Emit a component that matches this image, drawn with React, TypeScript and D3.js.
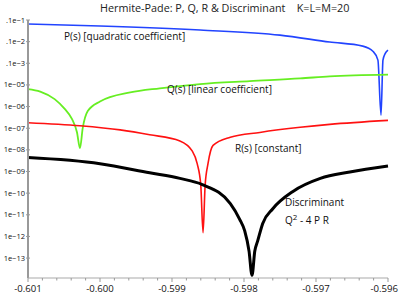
import React from 'react'
import * as d3 from 'd3'

// [s, value] pairs
const pSeries: [number, number][] = [
  [-0.601, 6.5e-3], [-0.6, 5.3e-3], [-0.59861, 3.45e-3], [-0.5975, 2.0e-3],
  [-0.59681, 9.6e-4], [-0.59635, 6.2e-4], [-0.59621, 3.6e-4], [-0.59614, 1.4e-4],
  [-0.596097, 4e-7], [-0.59607, 1.4e-4], [-0.59604, 2.8e-4], [-0.596, 4.1e-4],
]
const qSeries: [number, number][] = [
  [-0.601, 6.4e-6], [-0.60083, 4.9e-6], [-0.60063, 2.2e-6], [-0.60049, 7.8e-7],
  [-0.60039, 2.7e-7], [-0.60032, 6.5e-8], [-0.600278, 1.2e-8], [-0.60024, 1.0e-7],
  [-0.60017, 6.2e-7], [-0.6, 1.7e-6], [-0.59958, 4.5e-6], [-0.59917, 7.0e-6],
  [-0.59861, 1.1e-5], [-0.59792, 1.5e-5], [-0.59722, 2.0e-5], [-0.59681, 2.5e-5],
  [-0.596, 3.0e-5],
]
const rSeries: [number, number][] = [
  [-0.601, 1.8e-7], [-0.60028, 1.3e-7], [-0.59972, 8.4e-8], [-0.59931, 5.0e-8],
  [-0.59889, 2.6e-8], [-0.59872, 9.0e-9], [-0.59865, 2.3e-9], [-0.5986, 2.3e-10],
  [-0.598569, 1.5e-12], [-0.59854, 2.3e-10], [-0.5985, 2.3e-9], [-0.59843, 1.6e-8],
  [-0.59819, 3.8e-8], [-0.59778, 6.4e-8], [-0.59722, 1.1e-7], [-0.59681, 1.5e-7],
  [-0.596, 2.3e-7],
]
const dSeries: [number, number][] = [
  [-0.601, 4.4e-9], [-0.6, 2.3e-9], [-0.59931, 8.7e-10], [-0.59889, 4.8e-10],
  [-0.59858, 2.5e-10], [-0.59819, 3.3e-11], [-0.59806, 6.2e-12], [-0.59799, 1.8e-12],
  [-0.59793, 2.1e-13], [-0.597889, 1.6e-14], [-0.59785, 2.1e-13], [-0.59781, 6.2e-13],
  [-0.59774, 4.0e-12], [-0.5976, 1.9e-11], [-0.59732, 1.2e-10], [-0.59694, 4.8e-10],
  [-0.59653, 9.5e-10], [-0.596, 1.8e-9],
]

const xTicks = [-0.601, -0.6, -0.599, -0.598, -0.597, -0.596]
const yTicks = [1e-2, 1e-3, 1e-4, 1e-5, 1e-6, 1e-7, 1e-8, 1e-9, 1e-10, 1e-11, 1e-12, 1e-13]
const yTickLabels = ['.1e\u22121', '.1e\u22122', '.1e\u22123', '1e\u221205', '1e\u221206', '1e\u221207',
  '1e\u221208', '1e\u221209', '1e\u221210', '1e\u221211', '1e\u221212', '1e\u221213']

const series = [
  { name: 'P', data: pSeries, color: '#2244ff', width: 1.6 },
  { name: 'Q', data: qSeries, color: '#66ee22', width: 1.8 },
  { name: 'R', data: rSeries, color: '#ff1111', width: 1.6 },
  { name: 'D', data: dSeries, color: '#000000', width: 3 },
]

const W = 400
const H = 296
const left = 28
const right = 388
const top = 20
const bottom = 278

export default function App() {
  const x = d3.scaleLinear().domain([-0.601, -0.596]).range([left, right])
  const y = d3.scaleLog().domain([10 ** -13.92, 1e-2]).range([bottom, top])

  const line = d3
    .line<[number, number]>()
    .x((d) => x(d[0]))
    .y((d) => y(d[1]))
    .curve(d3.curveMonotoneX)

  const minor = d3.range(0, 26).map((i) => -0.601 + i * 0.0002)
  const font = "'Open Sans', sans-serif"

  return (
    <svg width={W} height={H} style={{ position: 'absolute', left: 0, top: 0, background: '#fff' }} fontFamily={font}>
      <defs>
        <clipPath id="plot">
          <rect x={left} y={top - 2} width={right - left + 2} height={bottom - top + 2} />
        </clipPath>
      </defs>

      {/* title */}
      <text x={100} y={12} fontSize={10.8} fill="#222">
        Hermite-Pade: P, Q, R{'\u00a0'}&amp; Discriminant{'\u00a0\u00a0\u00a0\u00a0'}K=L=M=20
      </text>

      {/* curves */}
      <g clipPath="url(#plot)">
        {series.map((s) => (
          <path key={s.name} d={line(s.data) || ''} fill="none" stroke={s.color}
            strokeWidth={s.width} strokeLinejoin="round" />
        ))}
      </g>

      {/* axes */}
      <line x1={left} x2={left} y1={top} y2={bottom} stroke="#999" strokeWidth={2} />
      <line x1={left} x2={right} y1={bottom} y2={bottom} stroke="#aaa" strokeWidth={1.2} />
      {minor.map((m, i) => (
        <line key={i} x1={x(m)} x2={x(m)} y1={bottom} y2={bottom + (i % 5 === 0 ? 4 : 2.5)}
          stroke="#999" strokeWidth={1} />
      ))}
      {xTicks.map((t, i) => (
        <text key={t} x={i === xTicks.length - 1 ? 398 : x(t)} y={292} fontSize={9.6}
          textAnchor={i === xTicks.length - 1 ? 'end' : 'middle'} fill="#111">
          {d3.format('.3f')(t).replace('\u2212', '-')}
        </text>
      ))}
      {yTicks.map((t, i) => (
        <g key={t}>
          <line x1={left - 2} x2={left + 2} y1={y(t)} y2={y(t)} stroke="#999" strokeWidth={1} />
          <text x={25} y={y(t) + 2.5} fontSize={7.5} textAnchor="end" fill="#111">
            {yTickLabels[i]}
          </text>
        </g>
      ))}

      {/* curve labels */}
      <text x={64} y={40} fontSize={10} fill="#111">P(s) [quadratic coefficient]</text>
      <text x={167} y={93} fontSize={10} fill="#111">Q(s) [linear coefficient]</text>
      <text x={235} y={152} fontSize={10} fill="#111">R(s) [constant]</text>
      <text x={285} y={206} fontSize={10} fill="#111">Discriminant</text>
      <text x={285} y={224} fontSize={10} fill="#111">
        Q<tspan dy={-4} fontSize={8}>2</tspan><tspan dy={4}> - 4 P R</tspan>
      </text>
    </svg>
  )
}
